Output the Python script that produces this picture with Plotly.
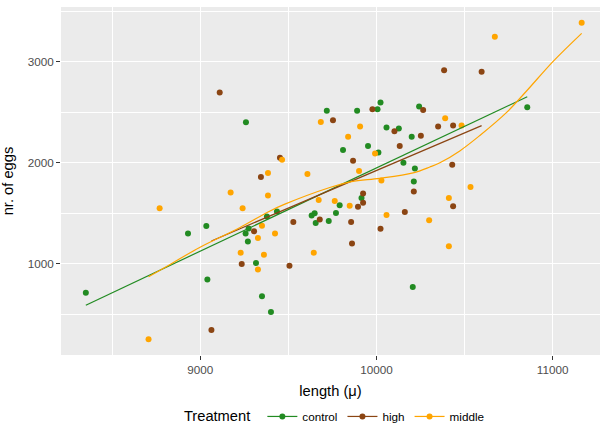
import plotly.graph_objects as go

# ---- data ----
control_len = [9259, 10023, 9718, 9890, 10006, 10242, 10057, 10127, 10200, 9952,
               9810, 10011, 10153, 10218, 10856, 9034, 8930, 9274, 9257, 9270,
               9316, 9040, 8350, 10212, 9915, 9791, 9378, 9435, 9632, 9649,
               9655, 9770, 9729, 10206, 9350, 9401]
control_eggs = [2402, 2598, 2516, 2516, 2532, 2559, 2349, 2339, 2258, 2167,
                2127, 2101, 2000, 1944, 2552, 1373, 1300, 1349, 1300, 1219,
                1006, 843, 712, 1814, 1650, 1578, 1467, 1516, 1477, 1500,
                1402, 1503, 1422, 768, 676, 520]

high_len = [9110, 10384, 9977, 10265, 9753, 10102, 10350, 10252, 10132, 9867,
            9452, 9344, 10597, 10435, 10430, 9305, 9235, 9063, 9924, 10212,
            9924, 9895, 9678, 9528, 9856, 10161, 10023, 9506, 9861, 10435]
high_eggs = [2696, 2918, 2532, 2523, 2421, 2314, 2359, 2268, 2167, 2020,
             2049, 1859, 2902, 2369, 1980, 1320, 996, 343, 1696, 1716,
             1604, 1565, 1437, 1412, 1412, 1513, 1346, 980, 1199, 1569]

middle_len = [9684, 9907, 9839, 10390, 9992, 9901, 9464, 9384, 9608, 11165,
              10672, 10483, 9172, 8769, 9240, 9327, 9229, 9327, 8706, 10028,
              9384, 9672, 9763, 9848, 10411, 10057, 10299, 9350, 9424, 9361,
              9644, 10411, 10534]
middle_eggs = [2405, 2359, 2258, 2441, 2091, 1918, 2029, 1898, 1888, 3388,
               3251, 2369, 1706, 1549, 1549, 1255, 1108, 941, 251, 1824,
               1676, 1630, 1620, 1575, 1650, 1483, 1431, 1376, 1300, 1088,
               1108, 1173, 1761]

# smoothed trend lines
control_fit_x = [8350, 10856]
control_fit_y = [588, 2655]
high_fit_x = [9063, 10597]
high_fit_y = [1225, 2369]
middle_fit_x = [8706, 8826, 8996, 9223, 9393, 9480, 9735, 9858, 10019, 10208,
                10303, 10360, 10473, 10587, 10739, 10852, 11003, 11165]
middle_fit_y = [870, 990, 1160, 1356, 1520, 1590, 1755, 1814, 1846, 1900,
                1958, 2000, 2118, 2271, 2500, 2712, 3006, 3284]

groups = ["control", "high", "middle"]
colors = {"control": "#228B22", "high": "#8B4513", "middle": "#FFA500"}
pts = {"control": (control_len, control_eggs),
       "high": (high_len, high_eggs),
       "middle": (middle_len, middle_eggs)}
fits = {"control": (control_fit_x, control_fit_y),
        "high": (high_fit_x, high_fit_y),
        "middle": (middle_fit_x, middle_fit_y)}

FONT = "Liberation Sans, Arial, sans-serif"

fig = go.Figure()
for g in groups:
    x, y = pts[g]
    fig.add_trace(go.Scatter(x=x, y=y, mode="markers", showlegend=False,
                             marker=dict(color=colors[g], size=6, line=dict(width=0)),
                             hoverinfo="skip"))
for g in groups:
    x, y = fits[g]
    fig.add_trace(go.Scatter(x=x, y=y, mode="lines", showlegend=False,
                             line=dict(color=colors[g], width=1.2,
                                       shape="spline", smoothing=1.0),
                             hoverinfo="skip"))
for g in groups:
    fig.add_trace(go.Scatter(x=[None], y=[None], mode="lines+markers", name=g,
                             line=dict(color=colors[g], width=1.2),
                             marker=dict(color=colors[g], size=6)))

fig.update_layout(
    width=600, height=432,
    margin=dict(l=61, r=0, t=7, b=74),
    paper_bgcolor="white",
    plot_bgcolor="#EBEBEB",
    font=dict(family=FONT, color="black"),
    showlegend=True,
    legend=dict(orientation="h", x=0.51, xanchor="center", y=-0.178, yanchor="middle",
                title=dict(text="Treatment ", side="left", font=dict(size=14.7, color="black")),
                font=dict(size=11.7, color="black"), bgcolor="rgba(0,0,0,0)",
                itemwidth=30, tracegroupgap=0),
)
fig.update_xaxes(range=[8209, 11269], dtick=1000, tick0=0, tickformat="d",
                 showgrid=True, gridcolor="white", gridwidth=1.1,
                 minor=dict(dtick=500, tick0=0, showgrid=True, gridcolor="white", gridwidth=0.5),
                 zeroline=False, showline=False,
                 ticks="outside", ticklen=4, tickcolor="#333333", tickwidth=1,
                 tickfont=dict(size=11.7, color="#4D4D4D"),
                 title=dict(text="length (μ)", font=dict(size=14.7, color="black"), standoff=10))
fig.update_yaxes(range=[94, 3545], dtick=1000, tick0=0, tickformat="d",
                 showgrid=True, gridcolor="white", gridwidth=1.1,
                 minor=dict(dtick=500, tick0=0, showgrid=True, gridcolor="white", gridwidth=0.5),
                 zeroline=False, showline=False,
                 ticks="outside", ticklen=4, tickcolor="#333333", tickwidth=1,
                 tickfont=dict(size=11.7, color="#4D4D4D"),
                 title=dict(text="nr. of eggs", font=dict(size=14.7, color="black"), standoff=12))

fig.write_html("out.html")
